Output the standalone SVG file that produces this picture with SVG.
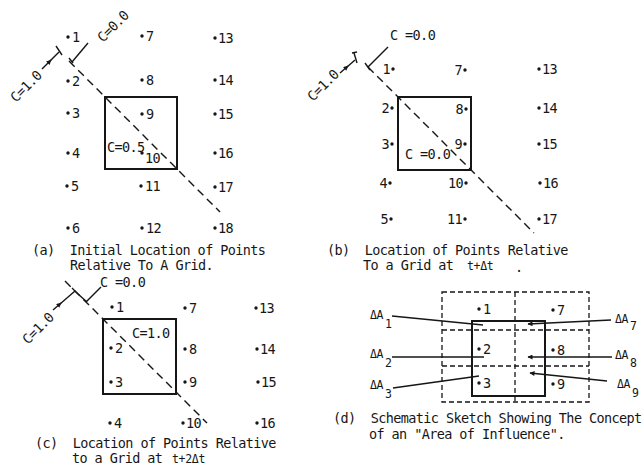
<svg xmlns="http://www.w3.org/2000/svg" width="644" height="466" viewBox="0 0 644 466">
<style>
.t{font-family:"DejaVu Sans Mono","Liberation Mono",monospace;font-size:13.5px;letter-spacing:-0.6px;fill:#161616}
.s{font-size:11.5px;letter-spacing:-0.3px}
.e{text-anchor:end}
.dot{fill:#161616}
.box{fill:none;stroke:#161616;stroke-width:2}
.ln{fill:none;stroke:#161616;stroke-width:1.4}
.dash{fill:none;stroke:#161616;stroke-width:1.4;stroke-dasharray:8 5}
.dash2{fill:none;stroke:#161616;stroke-width:1.3;stroke-dasharray:5 3}
</style>
<defs>
<marker id="ah" viewBox="0 0 10 10" refX="9" refY="5" markerWidth="6" markerHeight="5" orient="auto" markerUnits="userSpaceOnUse">
<path d="M0,0 L10,5 L0,10 Z" fill="#161616"/>
</marker>
</defs>
<rect width="644" height="466" fill="#fff"/>

<!-- connectors -->
<g id="connectors">
<!-- panel a -->
<path class="dash" d="M69,61 L220,212"/>
<path class="ln" d="M42,69 L51,60" marker-end="url(#ah)"/>
<path class="ln" d="M50,61 L59,52"/>
<path class="ln" d="M56,46 L62,55"/>
<path class="ln" d="M69,58 L73,63"/>
<path class="ln" d="M72,62 L88,43"/>
<!-- panel b -->
<path class="dash" d="M368,67 L534,233"/>
<path class="ln" d="M340,73 L348,66" marker-end="url(#ah)"/>
<path class="ln" d="M347,67 L355,60"/>
<path class="ln" d="M354,53 L357,63 M352,53 L357,52"/>
<path class="ln" d="M365,63 L370,70"/>
<path class="ln" d="M368,67 L388,47"/>
<!-- panel c -->
<path class="dash" d="M65,281 L207,423"/>
<path class="ln" d="M53,310 L61,303" marker-end="url(#ah)"/>
<path class="ln" d="M60,304 L75,291"/>
<path class="ln" d="M72,288 L78,294 L87,302"/>
<path class="ln" d="M86,302 L101,287"/>
<!-- panel d -->
<path class="dash2" d="M442,292 H589 V402 H442 Z"/>
<path class="dash2" d="M515,292 V402 M442,330 H589 M442,366 H589"/>
<path class="ln" d="M392,316 L483,325"/>
<path class="ln" d="M392,357 L484,357"/>
<path class="ln" d="M393,388 L479,376"/>
<path class="ln" d="M611,320 L528,324" marker-end="url(#ah)"/>
<path class="ln" d="M612,357 L528,357" marker-end="url(#ah)"/>
<path class="ln" d="M607,381 L530,373" marker-end="url(#ah)"/>
</g>

<!-- panel a -->
<g id="a-grid"><rect class="box" x="105" y="97" width="72" height="72"/></g>
<g id="a-labels">
<text class="t" transform="translate(16,103) rotate(-45)">C=1.0</text>
<text class="t" transform="translate(103,43) rotate(-45)">C=0.0</text>
<text class="t" x="107" y="152">C=0.5</text>
</g>
<g id="a-p1"><circle class="dot" cx="68" cy="37" r="1.7"/><text class="t" x="72" y="42">1</text></g>
<g id="a-p2"><circle class="dot" cx="68" cy="81" r="1.7"/><text class="t" x="72" y="86">2</text></g>
<g id="a-p3"><circle class="dot" cx="68" cy="113" r="1.7"/><text class="t" x="72" y="118">3</text></g>
<g id="a-p4"><circle class="dot" cx="68" cy="153" r="1.7"/><text class="t" x="72" y="158">4</text></g>
<g id="a-p5"><circle class="dot" cx="67" cy="186" r="1.7"/><text class="t" x="71" y="191">5</text></g>
<g id="a-p6"><circle class="dot" cx="68" cy="228" r="1.7"/><text class="t" x="72" y="233">6</text></g>
<g id="a-p7"><circle class="dot" cx="142" cy="36" r="1.7"/><text class="t" x="146" y="41">7</text></g>
<g id="a-p8"><circle class="dot" cx="142" cy="80" r="1.7"/><text class="t" x="146" y="85">8</text></g>
<g id="a-p9"><circle class="dot" cx="142" cy="114" r="1.7"/><text class="t" x="146" y="119">9</text></g>
<g id="a-p10"><circle class="dot" cx="142" cy="153" r="1.7"/><text class="t" x="145" y="163">10</text></g>
<g id="a-p11"><circle class="dot" cx="141" cy="186" r="1.7"/><text class="t" x="145" y="191">11</text></g>
<g id="a-p12"><circle class="dot" cx="142" cy="228" r="1.7"/><text class="t" x="146" y="233">12</text></g>
<g id="a-p13"><circle class="dot" cx="215" cy="38" r="1.7"/><text class="t" x="218" y="43">13</text></g>
<g id="a-p14"><circle class="dot" cx="215" cy="80" r="1.7"/><text class="t" x="218" y="85">14</text></g>
<g id="a-p15"><circle class="dot" cx="215" cy="114" r="1.7"/><text class="t" x="218" y="119">15</text></g>
<g id="a-p16"><circle class="dot" cx="215" cy="153" r="1.7"/><text class="t" x="218" y="158">16</text></g>
<g id="a-p17"><circle class="dot" cx="215" cy="187" r="1.7"/><text class="t" x="218" y="192">17</text></g>
<g id="a-p18"><circle class="dot" cx="215" cy="228" r="1.7"/><text class="t" x="218" y="233">18</text></g>
<g id="a-caption">
<text class="t" x="32" y="255" xml:space="preserve">(a)  Initial Location of Points</text>
<text class="t" x="70" y="270">Relative To A Grid.</text>
</g>

<!-- panel b -->
<g id="b-grid"><rect class="box" x="398" y="97" width="73" height="73"/></g>
<g id="b-labels">
<text class="t" transform="translate(313,102) rotate(-45)">C=1.0</text>
<text class="t" x="390" y="40">C =0.0</text>
<text class="t" x="405" y="159">C =0.0</text>
</g>
<g id="b-p1"><circle class="dot" cx="393" cy="69" r="1.7"/><text class="t e" x="390" y="74">1</text></g>
<g id="b-p2"><circle class="dot" cx="392" cy="108" r="1.7"/><text class="t e" x="389" y="113">2</text></g>
<g id="b-p3"><circle class="dot" cx="392" cy="144" r="1.7"/><text class="t e" x="389" y="149">3</text></g>
<g id="b-p4"><circle class="dot" cx="390" cy="183" r="1.7"/><text class="t e" x="387" y="188">4</text></g>
<g id="b-p5"><circle class="dot" cx="391" cy="219" r="1.7"/><text class="t e" x="388" y="224">5</text></g>
<g id="b-p7"><circle class="dot" cx="465" cy="70" r="1.7"/><text class="t e" x="462" y="75">7</text></g>
<g id="b-p8"><circle class="dot" cx="466" cy="109" r="1.7"/><text class="t e" x="463" y="114">8</text></g>
<g id="b-p9"><circle class="dot" cx="465" cy="144" r="1.7"/><text class="t e" x="462" y="149">9</text></g>
<g id="b-p10"><circle class="dot" cx="466" cy="183" r="1.7"/><text class="t e" x="463" y="188">10</text></g>
<g id="b-p11"><circle class="dot" cx="465" cy="219" r="1.7"/><text class="t e" x="462" y="224">11</text></g>
<g id="b-p13"><circle class="dot" cx="539" cy="69" r="1.7"/><text class="t" x="542" y="74">13</text></g>
<g id="b-p14"><circle class="dot" cx="539" cy="108" r="1.7"/><text class="t" x="542" y="113">14</text></g>
<g id="b-p15"><circle class="dot" cx="539" cy="144" r="1.7"/><text class="t" x="542" y="149">15</text></g>
<g id="b-p16"><circle class="dot" cx="540" cy="183" r="1.7"/><text class="t" x="543" y="188">16</text></g>
<g id="b-p17"><circle class="dot" cx="539" cy="219" r="1.7"/><text class="t" x="542" y="224">17</text></g>
<g id="b-caption">
<text class="t" x="327" y="255" xml:space="preserve">(b)  Location of Points Relative</text>
<text class="t" x="363" y="270">To a Grid at</text>
<text class="t s" x="467" y="270">t+Δt</text>
<text class="t" x="515" y="272">.</text>
</g>

<!-- panel c -->
<g id="c-grid"><rect class="box" x="103" y="319" width="73" height="75"/></g>
<g id="c-labels">
<text class="t" transform="translate(28,345) rotate(-45)">C=1.0</text>
<text class="t" x="100" y="287">C =0.0</text>
<text class="t" x="132" y="338">C=1.0</text>
</g>
<g id="c-p1"><circle class="dot" cx="112" cy="307" r="1.7"/><text class="t" x="116" y="312">1</text></g>
<g id="c-p2"><circle class="dot" cx="111" cy="348" r="1.7"/><text class="t" x="115" y="353">2</text></g>
<g id="c-p3"><circle class="dot" cx="111" cy="382" r="1.7"/><text class="t" x="115" y="387">3</text></g>
<g id="c-p4"><circle class="dot" cx="110" cy="423" r="1.7"/><text class="t" x="114" y="428">4</text></g>
<g id="c-p7"><circle class="dot" cx="185" cy="308" r="1.7"/><text class="t" x="189" y="313">7</text></g>
<g id="c-p8"><circle class="dot" cx="185" cy="349" r="1.7"/><text class="t" x="189" y="354">8</text></g>
<g id="c-p9"><circle class="dot" cx="185" cy="382" r="1.7"/><text class="t" x="189" y="387">9</text></g>
<g id="c-p10"><circle class="dot" cx="183" cy="423" r="1.7"/><text class="t" x="186" y="428">10</text></g>
<g id="c-p13"><circle class="dot" cx="256" cy="308" r="1.7"/><text class="t" x="259" y="313">13</text></g>
<g id="c-p14"><circle class="dot" cx="257" cy="349" r="1.7"/><text class="t" x="260" y="354">14</text></g>
<g id="c-p15"><circle class="dot" cx="258" cy="382" r="1.7"/><text class="t" x="261" y="387">15</text></g>
<g id="c-p16"><circle class="dot" cx="257" cy="423" r="1.7"/><text class="t" x="260" y="428">16</text></g>
<g id="c-caption">
<text class="t" x="35" y="448" xml:space="preserve">(c)  Location of Points Relative</text>
<text class="t" x="72" y="463">to a Grid at</text>
<text class="t s" x="172" y="463">t+2Δt</text>
</g>

<!-- panel d -->
<g id="d-grid"><rect class="box" x="472" y="321" width="73" height="75"/></g>
<g id="d-p1"><circle class="dot" cx="479" cy="309" r="1.7"/><text class="t" x="483" y="314">1</text></g>
<g id="d-p2"><circle class="dot" cx="479" cy="349" r="1.7"/><text class="t" x="483" y="354">2</text></g>
<g id="d-p3"><circle class="dot" cx="479" cy="383" r="1.7"/><text class="t" x="483" y="388">3</text></g>
<g id="d-p7"><circle class="dot" cx="553" cy="310" r="1.7"/><text class="t" x="557" y="315">7</text></g>
<g id="d-p8"><circle class="dot" cx="553" cy="350" r="1.7"/><text class="t" x="557" y="355">8</text></g>
<g id="d-p9"><circle class="dot" cx="553" cy="384" r="1.7"/><text class="t" x="557" y="389">9</text></g>
<g id="d-a1"><text class="t s" x="370" y="319">ΔA<tspan x="385" y="328">1</tspan></text></g>
<g id="d-a2"><text class="t s" x="370" y="358">ΔA<tspan x="385" y="367">2</tspan></text></g>
<g id="d-a3"><text class="t s" x="370" y="389">ΔA<tspan x="385" y="398">3</tspan></text></g>
<g id="d-a7"><text class="t s" x="615" y="323">ΔA<tspan x="630" y="330">7</tspan></text></g>
<g id="d-a8"><text class="t s" x="615" y="359">ΔA<tspan x="630" y="367">8</tspan></text></g>
<g id="d-a9"><text class="t s" x="617" y="388">ΔA<tspan x="632" y="397">9</tspan></text></g>
<g id="d-caption">
<text class="t" x="333" y="423" xml:space="preserve">(d)  Schematic Sketch Showing The Concept</text>
<text class="t" x="369" y="439">of an "Area of Influence".</text>
</g>
</svg>
